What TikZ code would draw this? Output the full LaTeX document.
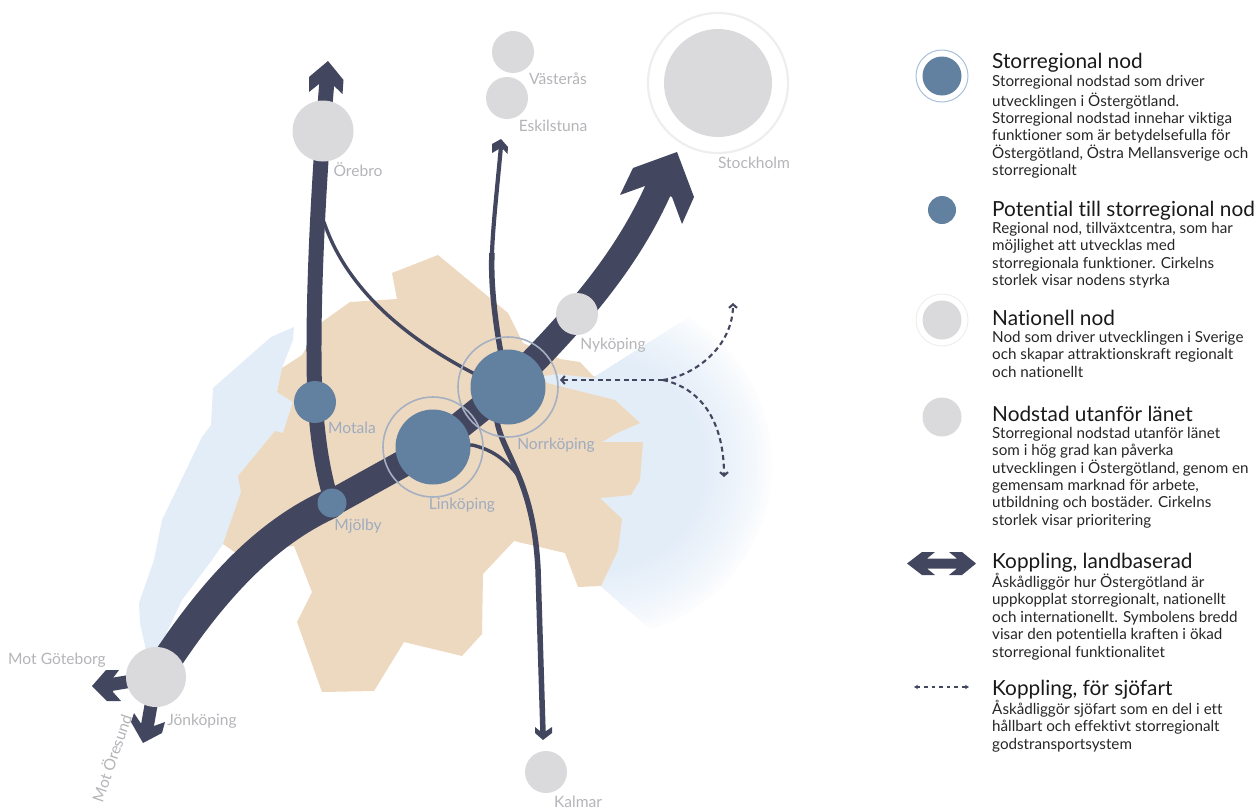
\documentclass[tikz,border=0pt]{standalone}
\usepackage{fontspec}
\setmainfont{Lato}[Ligatures=NoCommon]
\usetikzlibrary{arrows.meta}
\definecolor{roadc}{HTML}{43465F}
\definecolor{nodec}{HTML}{62809F}
\definecolor{grayc}{HTML}{DADADC}
\definecolor{landc}{HTML}{EDD9BF}
\definecolor{seac}{HTML}{E3EDF8}
\definecolor{ringb}{HTML}{A5B0C2}
\definecolor{ringl}{HTML}{EEEEEF}
\definecolor{ringk}{HTML}{A9C0D9}
\definecolor{labg}{HTML}{B4B4B9}
\definecolor{labb}{HTML}{9FABC0}
\pgfdeclarelayer{bg}
\pgfsetlayers{bg,main}
\tikzset{
 circ/.style={circle,inner sep=0pt,minimum size=#1},
 blue/.style={circ=#1,fill=nodec},
 grey/.style={circ=#1,fill=grayc},
 ringbl/.style={circ=100pt,draw=ringb,line width=1.6pt},
 ringgr/.style={circ=140pt,draw=ringl,line width=2.2pt},
 roadl/.style={draw=roadc,line width=#1,line cap=butt,line join=round},
 head/.style={fill=roadc},
 sea/.style={draw=roadc,line width=2.1pt,dash pattern=on 5pt off 3.6pt},
 tipa/.style={-{Straight Barb[length=3.5pt,width=8pt,line width=2.1pt]}},
 lab/.style={inner sep=0pt,font=\fontsize{15.6}{17}\selectfont,text=labg},
 labn/.style={lab,text=labb},
 legh/.style={anchor=base west,inner sep=0pt,font=\fontsize{20.8}{22}\selectfont,text=black!90},
 legb/.style={anchor=north west,inner sep=0pt,align=left,font=\fontsize{15.2}{17.4}\selectfont,text=black!85},
}
\begin{document}
\begin{tikzpicture}[x=1pt,y=-1pt]
\useasboundingbox (0,0) rectangle (1258,809);
% map nodes
\node[ringgr] (stoR) at (718,83) {};
\node[grey=108pt] (sto) at (718,83) {};
\node[grey=61pt] (ore) at (323,131) {};
\node[grey=42pt] (vas) at (513,52) {};
\node[grey=42pt] (esk) at (507,98) {};
\node[grey=42pt] (nyk) at (577,314) {};
\node[grey=60pt] (jon) at (156,677) {};
\node[grey=42pt] (kal) at (546,772) {};
\node[blue=42pt] (mot) at (315,402) {};
\node[blue=29pt] (mjo) at (332,503) {};
\node[ringbl] (linR) at (433,447) {};
\node[ringbl] (norR) at (508,387) {};
\node[blue=75pt] (lin) at (433,447) {};
\node[blue=75pt] (nor) at (508,387) {};
% free ends
\coordinate (stoEnd) at (659,188);
\coordinate (oreEnd) at (327,80);
\coordinate (eskMid) at (492,253);
\coordinate (eskEnd) at (501,146);
\coordinate (kA) at (496,410);
\coordinate (kB) at (538,569);
\coordinate (kalEnd) at (543,733);
\coordinate (gotEnd) at (108,685);
\coordinate (oreEnd2) at (147,728);
\coordinate (seaHub) at (663,380);
\coordinate (seaN) at (733,303);
\coordinate (seaS) at (724,477);
\coordinate (seaW) at (560,380);
\coordinate (branch) at (324,222);
\begin{pgfonlayer}{bg}
% lake
\fill[seac] (294,327) -- (293,340) -- (282,368) -- (277,392) -- (300,402) -- (290,440) -- (260,500) -- (235,545) -- (223,544) -- (212,560) -- (182,600) -- (167,632) -- (163,655) -- (146,650) -- (140,623) -- (139,603) -- (154,560) -- (162,520) -- (202,437) -- (211,425) -- (213,388) -- (271,337) -- cycle;
% sea
\begin{scope}
\clip (535,372) -- (595,377) -- (740,285) -- (800,285) -- (800,720) -- (720,690) -- (601,586) -- (540,500) -- cycle;
\foreach \i in {0,...,35}{
  \pgfmathsetmacro{\rr}{174-2*\i}
  \pgfmathsetmacro{\tt}{100*(\i/35)^0.7}
  \fill[seac!\tt!white] (600,465) circle (\rr pt);
}
\end{scope}
% land
\fill[landc] (438,255) -- (392,273) -- (397,299) -- (350,302) -- (322,322) -- (302,355) -- (282,368) -- (277,392) -- (293,402) -- (283,433) -- (275,431) -- (238,476) -- (241,492) -- (223,544) -- (236,553) -- (294,546) -- (312,592) -- (297,622) -- (322,692) -- (374,691) -- (404,642) -- (462,656) -- (482,634) -- (483,574) -- (514,541) -- (565,553) -- (578,587) -- (601,586) -- (618,550) -- (622,519) -- (600,498) -- (631,495) -- (640,480) -- (643,442) -- (602,442) -- (617,433) -- (640,423) -- (615,400) -- (547,383) -- (543,376) -- (557,374) -- (595,378) -- (580,362) -- (560,359) -- (523,343) -- (508,313) -- cycle;
% land connections
\draw[roadl=30pt] (jon.center) .. controls (205,600) and (260,535) .. (mjo.center);
\draw[roadl=27pt] (mjo.center) -- (lin.center) -- (nor.center) .. controls (570,325) and (625,265) .. (stoEnd);
\fill[head] (620,195) -- (633,168) -- (677,152) -- (694,197) -- (682,224) -- (672,197) -- (645,186) -- cycle;
\draw[roadl=15pt] (oreEnd) -- (ore.center) .. controls (316,230) and (312,330) .. (mot.center) .. controls (318,440) and (322,470) .. (mjo.center);
\fill[head] (328,61) -- (343.5,80) -- (342.5,94) -- (332,84) -- (319,84) -- (309,92) -- (309,77) -- cycle;
\draw[roadl=3.4pt] (branch) .. controls (345,285) and (400,335) .. (473,373) -- (nor.center);
\draw[roadl=5.5pt] (nor.center) .. controls (498,345) and (490,290) .. (eskMid);
\draw[roadl=4.2pt] (eskMid) .. controls (493,225) and (497,190) .. (eskEnd);
\fill[head] (501,139) -- (508,147) -- (507.5,154) -- (503,149) -- (499,149) -- (492,153) -- (492,144) -- cycle;
\draw[roadl=5.5pt] (nor.center) -- (kA) .. controls (496,450) and (533,470) .. (kB) -- (kalEnd);
\fill[head] (543,740) -- (552,733) -- (552,727) -- (546,731) -- (540,731) -- (535,727) -- (535,733) -- cycle;
\draw[roadl=3.4pt] (lin.center) -- (472,445) .. controls (490,449) and (505,458) .. (520,478);
\draw[roadl=13pt] (jon.center) -- (gotEnd);
\fill[head] (92,686) -- (106,670) -- (119,670) -- (113,678) -- (113,692) -- (121,701) -- (107,701) -- cycle;
\draw[roadl=13pt] (jon.center) -- (oreEnd2);
\fill[head] (143,743) -- (131,722) -- (134,713) -- (142,725) -- (154,726) -- (165,722) -- (162,733) -- cycle;
% sea connections
\draw[sea,tipa] (seaHub) -- (seaW);
\draw[sea,tipa] (seaHub) .. controls (697,375) and (733,345) .. (seaN);
\draw[sea,tipa] (seaHub) .. controls (700,388) and (724,420) .. (seaS);
\end{pgfonlayer}
% labels
\node[lab] (lore) at (358,170) {Örebro};
\node[lab] (lvas) at (558,79) {Västerås};
\node[lab] (lesk) at (553,126) {Eskilstuna};
\node[lab] (lsto) at (754,163) {Stockholm};
\node[lab] (lnyk) at (613,345) {Nyköping};
\node[labn] (lnor) at (556,445) {Norrköping};
\node[labn] (lmot) at (352,428) {Motala};
\node[labn] (llin) at (462,505) {Linköping};
\node[labn] (lmjo) at (358,526) {Mjölby};
\node[lab] (ljon) at (202,721) {Jönköping};
\node[lab] (lkal) at (578,802) {Kalmar};
\node[lab] (lgot) at (57,660) {Mot Göteborg};
\node[lab,rotate=71] (lore2) at (111,758) {Mot Öresund};
% legend
\node[circ=52pt,draw=ringk,line width=1pt] (k1r) at (942,76) {};
\node[blue=39pt] (k1) at (942,76) {};
\node[blue=28pt] (k2) at (942,210) {};
\node[circ=52pt,draw=ringl,line width=1pt] (k3r) at (942,320) {};
\node[grey=39pt] (k3) at (942,320) {};
\node[grey=39pt] (k4) at (942,417) {};
\fill[head] (907,563.5) -- (922,552) -- (935,552) -- (927,558.5) -- (957,558.5) -- (949,552) -- (962,552) -- (976,563.5) -- (962,575) -- (949,575) -- (957,568.5) -- (927,568.5) -- (935,575) -- (922,575) -- cycle;
\coordinate (k6a) at (914,687);
\coordinate (k6b) at (969,687);
\draw[draw=roadc,line width=1.4pt,dash pattern=on 3.6pt off 4pt,{Stealth[length=4pt,width=4.5pt]}-{Stealth[length=4pt,width=4.5pt]}] (k6a) -- (k6b);
\node[legh] (h1) at (992,68) {Storregional nod};
\node[legb] (b1) at (992,74) {\strut Storregional nodstad som driver\\utvecklingen i Östergötland.\\Storregional nodstad innehar viktiga\\funktioner som är betydelsefulla för\\Östergötland, Östra Mellansverige och\\storregionalt};
\node[legh] (h2) at (992,216) {Potential till storregional nod};
\node[legb] (b2) at (992,221) {\strut Regional nod, tillväxtcentra, som har\\möjlighet att utvecklas med\\storregionala funktioner. Cirkelns\\storlek visar nodens styrka};
\node[legh] (h3) at (992,325) {Nationell nod};
\node[legb] (b3) at (992,330) {\strut Nod som driver utvecklingen i Sverige\\och skapar attraktionskraft regionalt\\och nationellt};
\node[legh] (h4) at (992,421) {Nodstad utanför länet};
\node[legb] (b4) at (992,426) {\strut Storregional nodstad utanför länet\\som i hög grad kan påverka\\utvecklingen i Östergötland, genom en\\gemensam marknad för arbete,\\utbildning och bostäder. Cirkelns\\storlek visar prioritering};
\node[legh] (h5) at (992,568) {Koppling, landbaserad};
\node[legb] (b5) at (992,573) {\strut Åskådliggör hur Östergötland är\\uppkopplat storregionalt, nationellt\\och internationellt. Symbolens bredd\\visar den potentiella kraften i ökad\\storregional funktionalitet};
\node[legh] (h6) at (992,695) {Koppling, för sjöfart};
\node[legb] (b6) at (992,700) {\strut Åskådliggör sjöfart som en del i ett\\hållbart och effektivt storregionalt\\godstransportsystem};
\end{tikzpicture}
\end{document}
